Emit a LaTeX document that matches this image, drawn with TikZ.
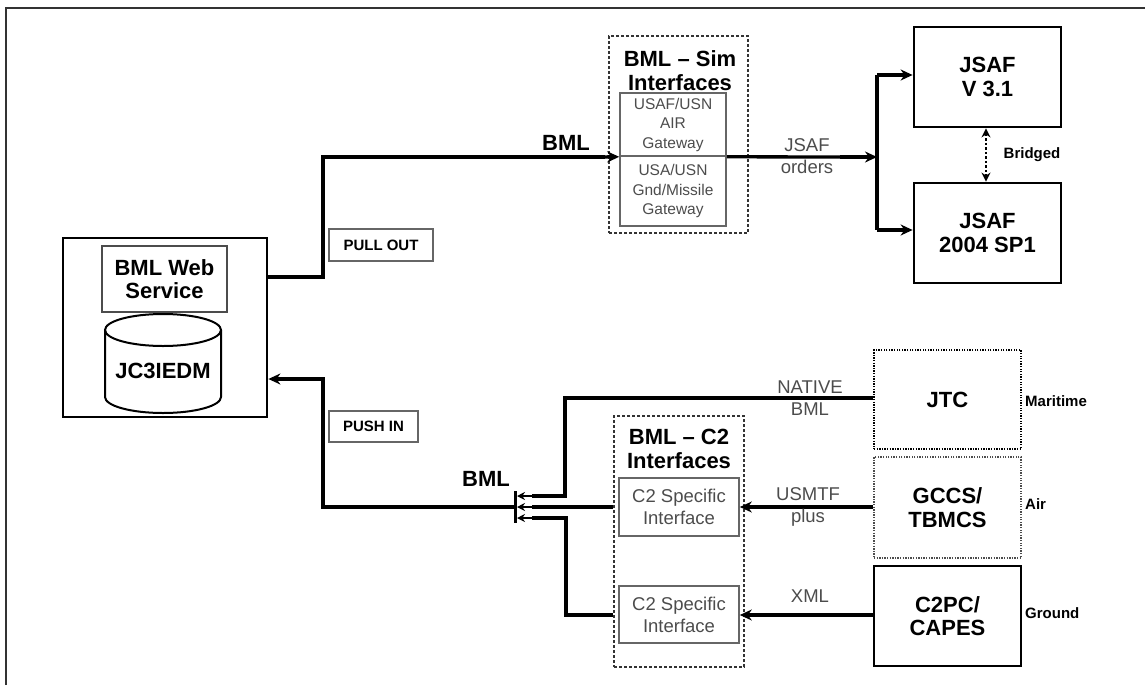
\documentclass[tikz,border=0pt]{standalone}
\usepackage{fontspec}
\setmainfont{Liberation Sans}
\usetikzlibrary{arrows.meta,calc}
\newcommand\fbig{\fontsize{22}{23.5}\selectfont\bfseries}
\newcommand\freg{\fontsize{18.5}{22}\selectfont}
\newcommand\fsmall{\fontsize{15.5}{19.5}\selectfont}
\newcommand\flab{\fontsize{15}{18}\selectfont\bfseries}
\definecolor{txtgray}{gray}{0.3}
\definecolor{boxgray}{gray}{0.4}
\begin{document}
\begin{tikzpicture}[x=1pt,y=-1pt,
  heavybox/.style={draw,line width=2.8pt,inner sep=0pt,align=center,font=\fbig},
  thinbox/.style={draw=boxgray,line width=1.6pt,inner sep=0pt,align=center,text=txtgray},
  tagbox/.style={draw=boxgray,line width=1.8pt,inner sep=0pt,font=\flab},
  grpbox/.style={draw=black!80,line width=1.1pt,dash pattern=on 3pt off 2pt,inner sep=0pt},
  dotbox/.style={draw,line width=1.8pt,dash pattern=on 1.3pt off 1.3pt,inner sep=0pt,align=center,font=\fbig},
  conn/.style={line width=3.3pt},
  arr/.style={-{Stealth[length=12pt,width=11pt]}},
  sarr/.style={-{Stealth[length=8pt,width=8pt]}},
  lbl/.style={font=\freg,text=txtgray,align=center,inner sep=0pt},
  side/.style={font=\flab,anchor=west,inner sep=0pt}
]
\useasboundingbox (0,0) rectangle (1145,685);
% frame
\draw[line width=1.6pt,black!80] (6,685) -- (6,8) -- (1145,8);

% web service
\node[heavybox,minimum width=204pt,minimum height=179pt] (ws) at (165,327.5) {};
\node[thinbox,draw=black!70,text=black,font=\fbig,minimum width=125pt,minimum height=66pt] (wsi) at (164.5,279) {BML Web\\Service};
\draw[line width=2pt] (105,330) -- (105,397) arc[start angle=180,end angle=360,x radius=58pt,y radius=16pt] -- (221,330);
\draw[line width=2pt] (163,330) ellipse[x radius=58pt,y radius=16pt];
\node[font=\fbig,inner sep=0pt] (db) at (163,371) {JC3IEDM};

\node[tagbox,minimum width=104pt,minimum height=32pt] (pull) at (381,245) {PULL OUT};
\node[tagbox,minimum width=89pt,minimum height=31pt] (push) at (373.5,426.5) {PUSH IN};

% sim interfaces
\node[grpbox,minimum width=139pt,minimum height=197pt] (simg) at (678.5,134.5) {};
\node[font=\fbig,align=center,inner sep=0pt] (simt) at (680,70.5) {BML -- Sim\\Interfaces};
\node[thinbox,font=\fsmall,minimum width=106pt,minimum height=63pt] (gw1) at (673,124.5) {USAF/USN\\AIR\\Gateway};
\node[thinbox,font=\fsmall,minimum width=106pt,minimum height=70pt] (gw2) at (673,191) {USA/USN\\Gnd/Missile\\Gateway};

% JSAF
\node[heavybox,minimum width=147pt,minimum height=100pt] (j1) at (987.5,77) {JSAF\\V 3.1};
\node[heavybox,minimum width=147pt,minimum height=100pt] (j2) at (987.5,233) {JSAF\\2004 SP1};
\draw[line width=2.6pt,dash pattern=on 2.5pt off 2pt,{Stealth[length=9pt,width=9pt]}-{Stealth[length=9pt,width=9pt]}] (j1.south -| 986,0) -- (j2.north -| 986,0);
\node[font=\flab,inner sep=0pt] (bridged) at (1032,155) {Bridged};

\coordinate (br) at (877,157);
\draw[conn] (ws.east |- 0,277) -- (323,277) -- (323,157) -- (605,157);
\draw[conn,arr] (595,157) -- (gw1.south west);
\node[font=\fbig,inner sep=0pt] (bmltop) at (566,143) {BML};
\draw[conn] (gw1.south east) -- (850,157);
\draw[conn,arr] (840,157) -- (br);
\draw[conn] (877,75) -- (877,230);
\draw[conn,arr] (877,75) -- (j1.west |- 0,75);
\draw[conn,arr] (877,230) -- (j2.west |- 0,230);
\node[lbl] (jo) at (807,156.5) {JSAF\\orders};

% C2 side
\node[dotbox,minimum width=147pt,minimum height=99pt] (jtc) at (947.5,399.5) {JTC};
\node[dotbox,draw=black!70,minimum width=147pt,minimum height=101pt] (gccs) at (947.5,507.5) {GCCS/\\TBMCS};
\node[heavybox,minimum width=147pt,minimum height=100pt] (c2pc) at (947.5,616) {C2PC/\\CAPES};
\node[side] (mar) at (1025,401) {Maritime};
\node[side] (air) at (1025,504) {Air};
\node[side] (gnd) at (1025,613) {Ground};

\node[grpbox,minimum width=130pt,minimum height=251pt] (c2g) at (679,541.5) {};
\node[font=\fbig,align=center,inner sep=0pt] (c2t) at (679,449) {BML -- C2\\Interfaces};
\node[thinbox,font=\freg,minimum width=120pt,minimum height=58pt] (c2a) at (679,507) {C2 Specific\\Interface};
\node[thinbox,font=\freg,minimum width=120pt,minimum height=57pt] (c2b) at (679,614.5) {C2 Specific\\Interface};

\coordinate (bartop) at (515,491);
\coordinate (barbot) at (515,523);
\draw[line width=3pt] (bartop) -- (barbot);
\node[font=\fbig,inner sep=0pt] (bmlbot) at (486,479) {BML};

\draw[conn] (jtc.west |- 0,398) -- (565,398) -- (565,496) -- (532,496);
\draw[line width=2.6pt,sarr] (538,496) -- (517,496);
\draw[conn] (c2g.west |- 0,507) -- (532,507);
\draw[line width=2.6pt,sarr] (538,507) -- (517,507);
\draw[conn] (c2g.west |- 0,615) -- (566,615) -- (566,518) -- (532,518);
\draw[line width=2.6pt,sarr] (538,518) -- (517,518);

\draw[conn,arr] (gccs.west |- 0,507) -- (c2a.east);
\draw[conn,arr] (c2pc.west |- 0,615) -- (c2b.east |- 0,615);
\node[lbl] (nat) at (810,398.5) {NATIVE\\BML};
\node[lbl] (usm) at (808,506.5) {USMTF\\plus};
\node[lbl] (xml) at (810,596) {XML};

\draw[conn] (515,507) -- (323,507) -- (323,379) -- (285,379);
\draw[conn,arr] (295,379) -- (ws.east |- 0,379);
\end{tikzpicture}
\end{document}
